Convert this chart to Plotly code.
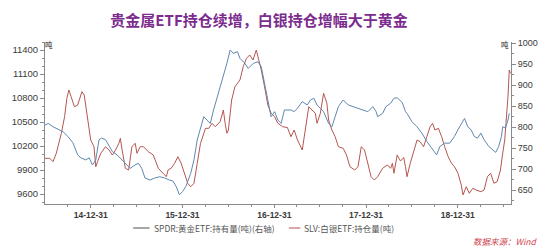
import plotly.graph_objects as go

# ---------------- data ----------------
spdr_dates = ["2014-07-02","2014-07-15","2014-08-03","2014-08-30","2014-09-12","2014-10-01","2014-10-21","2014-11-09",
    "2014-11-22","2014-12-11","2014-12-25","2015-01-07","2015-01-20","2015-02-02","2015-02-12","2015-02-28","2015-03-14",
    "2015-03-27","2015-04-15","2015-05-05","2015-05-24","2015-06-06","2015-06-25","2015-07-09","2015-07-22","2015-08-04",
    "2015-08-24","2015-09-12","2015-10-02","2015-10-21","2015-11-10","2015-11-23","2015-12-06","2015-12-19","2016-01-01",
    "2016-01-14","2016-02-02","2016-02-15","2016-02-28","2016-03-12","2016-03-25","2016-04-07","2016-04-20","2016-05-03",
    "2016-05-23","2016-06-11","2016-06-25","2016-07-08","2016-07-21","2016-08-06","2016-08-16","2016-09-05","2016-09-18",
    "2016-10-08","2016-10-27","2016-11-09","2016-11-22","2016-12-05","2016-12-18","2017-01-01","2017-01-14","2017-01-27",
    "2017-02-09","2017-03-07","2017-03-20","2017-04-02","2017-04-21","2017-05-11","2017-05-24","2017-06-06","2017-06-19",
    "2017-07-02","2017-07-15","2017-08-04","2017-08-17","2017-08-30","2017-09-12","2017-10-01","2017-10-21","2017-11-09",
    "2017-11-29","2017-12-18","2018-01-07","2018-01-27","2018-02-09","2018-02-15","2018-03-07","2018-03-20","2018-04-08",
    "2018-04-21","2018-05-04","2018-05-24","2018-06-06","2018-06-12","2018-07-02","2018-07-22","2018-08-10","2018-08-30",
    "2018-09-18","2018-10-01","2018-10-08","2018-10-21","2018-11-09","2018-11-29","2018-12-18","2019-01-01","2019-01-14",
    "2019-01-27","2019-02-09","2019-02-22","2019-03-07","2019-03-20","2019-04-02","2019-04-15","2019-05-04","2019-05-18",
    "2019-05-31","2019-06-12","2019-06-23","2019-06-28","2019-07-09","2019-07-19","2019-07-24"]
spdr_values = [805,809,801,794,789,778,763,734,727,722,727,710,722,770,774,770,754,742,734,722,710,702,710,714,702,679,
    674,679,682,679,674,672,659,639,647,659,690,722,770,801,825,817,809,841,881,920,952,984,976,980,964,952,940,952,956,
    944,905,865,825,837,817,809,841,841,837,845,861,853,865,869,853,845,837,809,801,825,849,865,853,849,845,841,837,849,
    837,825,833,849,857,869,870,859,837,833,813,801,786,766,750,742,734,754,762,762,778,794,809,821,801,794,778,774,786,
    770,754,746,740,754,778,801,798,817,833]

slv_dates = ["2014-07-02","2014-07-21","2014-08-03","2014-08-16","2014-09-05","2014-09-18","2014-09-27","2014-10-05",
    "2014-10-14","2014-10-27","2014-11-09","2014-11-16","2014-11-26","2014-12-05","2014-12-18","2014-12-31","2015-01-13",
    "2015-01-20","2015-01-27","2015-02-09","2015-02-28","2015-03-14","2015-03-27","2015-04-09","2015-04-22","2015-04-28",
    "2015-05-05","2015-05-18","2015-05-31","2015-06-13","2015-06-26","2015-07-03","2015-07-16","2015-07-29","2015-08-17",
    "2015-09-06","2015-09-26","2015-10-15","2015-10-28","2015-11-04","2015-11-17","2015-11-30","2015-12-13","2015-12-26",
    "2016-01-07","2016-01-21","2016-02-02","2016-02-15","2016-02-28","2016-03-12","2016-04-01","2016-04-14","2016-04-27",
    "2016-05-10","2016-05-29","2016-06-11","2016-06-18","2016-06-25","2016-07-01","2016-07-14","2016-07-27","2016-08-16",
    "2016-08-29","2016-09-11","2016-09-24","2016-10-07","2016-10-20","2016-10-30","2016-11-09","2016-11-22","2016-12-05",
    "2016-12-18","2017-01-01","2017-01-14","2017-02-02","2017-02-21","2017-03-07","2017-03-20","2017-04-02","2017-04-21",
    "2017-05-04","2017-05-17","2017-05-30","2017-06-12","2017-06-19","2017-07-02","2017-07-15","2017-07-28","2017-08-04",
    "2017-08-17","2017-08-30","2017-09-12","2017-10-01","2017-10-14","2017-10-28","2017-11-16","2017-11-29","2017-12-12",
    "2017-12-25","2018-01-07","2018-01-20","2018-02-02","2018-02-15","2018-03-07","2018-03-26","2018-04-08","2018-04-15",
    "2018-04-21","2018-05-04","2018-05-17","2018-05-30","2018-06-06","2018-06-12","2018-06-25","2018-07-09","2018-07-22",
    "2018-08-03","2018-08-17","2018-08-30","2018-09-12","2018-09-22","2018-10-01","2018-10-15","2018-10-28","2018-11-09",
    "2018-11-23","2018-12-06","2018-12-18","2019-01-01","2019-01-14","2019-01-21","2019-02-03","2019-02-15","2019-03-01",
    "2019-03-14","2019-04-02","2019-04-15","2019-04-28","2019-05-11","2019-05-24","2019-06-06","2019-06-19","2019-06-28",
    "2019-07-06","2019-07-11","2019-07-19","2019-07-24","2019-07-29"]
slv_values = [10046,10046,10004,10109,10359,10566,10796,10900,10816,10691,10712,10775,10879,10838,10566,10275,10191,
    9941,10004,10109,10191,10150,10088,10150,10234,10296,10150,9921,9900,10191,10234,10109,10191,10191,10129,10088,9921,
    9859,9816,9900,9925,9984,10066,9984,9859,9734,9691,9734,9984,10234,10421,10421,10484,10441,10504,10650,10484,10359,
    10400,10775,10941,11025,11191,11296,11338,11275,11400,11275,11150,10941,10713,10609,10566,10484,10441,10431,10316,
    10400,10275,10150,10441,10691,10650,10609,10484,10609,10859,10734,10525,10400,10316,10191,10171,10088,9941,9900,9941,
    10191,10150,9963,9816,9775,9816,9921,9963,9921,9984,9859,10088,10012,10056,9941,9816,9984,10150,10275,10254,10191,
    10316,10441,10484,10400,10421,10316,10191,10066,9984,9941,9859,9713,9588,9691,9609,9671,9650,9629,9650,9816,9859,
    9734,9754,9900,10109,10275,10484,10816,11150,11109]

x_tick_vals = ["2014-12-31", "2015-12-31", "2016-12-31", "2017-12-31", "2018-12-31"]
x_tick_text = ["14-12-31", "15-12-31", "16-12-31", "17-12-31", "18-12-31"]
left_ticks = [9600, 9900, 10200, 10500, 10800, 11100, 11400]
right_ticks = [650, 700, 750, 800, 850, 900, 950, 1000]

title_text = "贵金属ETF持仓续增，白银持仓增幅大于黄金"
spdr_name = "SPDR:黄金ETF:持有量(吨)(右轴)"
slv_name = "SLV:白银ETF:持仓量(吨)"
source_text = "数据来源：Wind"

# ---------------- styling ----------------
BLUE = "#6088B0"
RED = "#B55650"
AXIS = "#8a8a8a"
TXT = "#3a3a3a"
FONT = "Liberation Sans, Noto Sans CJK SC, sans-serif"
CJK = "Noto Sans CJK SC, sans-serif"

# quarterly minor ticks on the date axis
minor_x = []
for y in range(2014, 2020):
    for md in ["03-31", "06-30", "09-30", "12-31"]:
        d = f"{y}-{md}"
        if "2014-07-02" < d < "2019-07-31":
            minor_x.append(d)

fig = go.Figure()
fig.add_trace(go.Scatter(x=spdr_dates, y=spdr_values, mode="lines", name=spdr_name,
                         line=dict(color=BLUE, width=1), yaxis="y2"))
fig.add_trace(go.Scatter(x=slv_dates, y=slv_values, mode="lines", name=slv_name,
                         line=dict(color=RED, width=1), yaxis="y"))

L, R, T, B = 37, 39, 42, 46
W, H = 550, 250
pw, ph = W - L - R, H - T - B

def px(xp):
    return (xp - L) / pw

def py(yp):
    return (H - B - yp) / ph

fig.update_layout(
    width=W, height=H,
    margin=dict(l=L, r=R, t=T, b=B, pad=0),
    paper_bgcolor="white", plot_bgcolor="white",
    showlegend=False,
    font=dict(family=FONT, color=TXT),
    title=dict(text=title_text, x=259 / W, xref="container", xanchor="center",
               y=1 - 21 / H, yref="container", yanchor="middle",
               font=dict(family=CJK, size=15, color="#7B2C8E", weight="bold")),
    xaxis=dict(type="date", range=["2014-07-02", "2019-07-31"],
               tickmode="array", tickvals=x_tick_vals, ticktext=x_tick_text,
               ticks="outside", ticklen=3, tickcolor=AXIS,
               minor=dict(tickmode="array", tickvals=minor_x, ticks="outside", ticklen=2, tickcolor=AXIS),
               showline=True, linecolor=AXIS, linewidth=1, showgrid=False, zeroline=False,
               tickfont=dict(size=8.5, color=TXT, weight="bold")),
    yaxis=dict(range=[9475, 11500], tickmode="array", tickvals=left_ticks, tickformat="d",
               ticks="outside", ticklen=4, tickcolor=AXIS,
               minor=dict(dtick=100, ticks="outside", ticklen=2, tickcolor=AXIS),
               showline=True, linecolor=AXIS, linewidth=1, showgrid=False, zeroline=False,
               tickfont=dict(size=9.5, color=TXT)),
    yaxis2=dict(range=[617, 1003], overlaying="y", side="right", tickmode="array", tickvals=right_ticks,
                tickformat="d",
                ticks="outside", ticklen=4, tickcolor=AXIS,
                minor=dict(dtick=25, ticks="outside", ticklen=2, tickcolor=AXIS),
                showline=True, linecolor=AXIS, linewidth=1, showgrid=False, zeroline=False,
                tickfont=dict(size=9, color=TXT)),
)

# unit labels
for xp in (41.5, 505):
    fig.add_annotation(text="吨", x=px(xp), y=py(45), xref="paper", yref="paper",
                       showarrow=False, font=dict(family=CJK, size=7.5, color="#222"),
                       xanchor="center", yanchor="middle")

# custom legend
leg_y = py(228)
fig.add_shape(type="line", xref="paper", yref="paper", x0=px(126.7), x1=px(143.3), y0=leg_y, y1=leg_y,
              line=dict(color="#8a8a8a", width=1.5))
fig.add_annotation(text=spdr_name, x=px(146), y=leg_y, xref="paper", yref="paper", showarrow=False,
                   xanchor="left", yanchor="middle", font=dict(family=CJK, size=8.5, color="#555"))
fig.add_shape(type="line", xref="paper", yref="paper", x0=px(285), x1=px(296.7), y0=leg_y, y1=leg_y,
              line=dict(color="#d08a88", width=1.5))
fig.add_annotation(text=slv_name, x=px(298), y=leg_y, xref="paper", yref="paper", showarrow=False,
                   xanchor="left", yanchor="middle", font=dict(family=CJK, size=8.5, color="#555"))

# source
fig.add_annotation(text="<i>" + source_text + "</i>", x=px(470), y=py(241), xref="paper", yref="paper",
                   showarrow=False, xanchor="left", yanchor="middle",
                   font=dict(family=CJK, size=8.5, color="#D0404A"))

fig.write_html("out.html")
